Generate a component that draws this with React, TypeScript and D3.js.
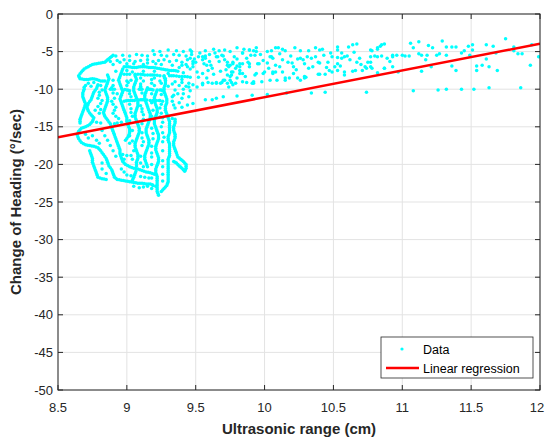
import React from "react";
import * as d3 from "d3";

type P = [number, number];

const xTicks = [8.5, 9, 9.5, 10, 10.5, 11, 11.5, 12];
const yTicks = [0, -5, -10, -15, -20, -25, -30, -35, -40, -45, -50];
const xDomain: P = [8.5, 12];
const yDomain: P = [-50, 0];
const regressionEnds: P[] = [[8.5, -16.4], [12, -3.95]];

// left loop + upper rows of the dense cluster
const loopPts: P[] = [
  [8.65,-8.2],[8.67,-7.7],[8.69,-7.3],[8.72,-7.0],[8.75,-6.7],[8.78,-6.6],[8.81,-6.5],[8.84,-6.4],[8.86,-6.1],[8.88,-5.8],[8.90,-5.5],
  [8.66,-8.6],[8.69,-8.7],[8.72,-8.7],[8.75,-8.6],[8.78,-8.7],[8.81,-8.9],[8.84,-8.9],
  [8.66,-7.95],[8.68,-7.5],[8.705,-7.15],[8.735,-6.85],[8.765,-6.65],[8.795,-6.55],[8.825,-6.45],[8.85,-6.25],[8.87,-5.95],[8.89,-5.65],[8.655,-8.4],[8.675,-8.65],[8.705,-8.7],[8.735,-8.65],[8.765,-8.65],[8.795,-8.8],[8.825,-8.9],
  [8.98,-7.0],[9.01,-7.0],[9.04,-7.1],[9.07,-7.1],[9.10,-7.0],[9.13,-7.0],[9.16,-7.1],[9.19,-7.1],[9.22,-7.2],[9.25,-7.3],[9.28,-7.4],[9.31,-7.5],[9.34,-7.5],[9.37,-7.6],
  [8.995,-7.0],[9.025,-7.05],[9.055,-7.1],[9.085,-7.05],[9.115,-7.0],[9.145,-7.05],[9.175,-7.1],[9.205,-7.15],[9.235,-7.25],[9.265,-7.35],[9.295,-7.45],[9.325,-7.5],[9.355,-7.55],
  [8.98,-8.0],[9.02,-8.0],[9.10,-8.0],[9.13,-8.1],[9.17,-8.1],[9.20,-8.1],[9.24,-8.2],[9.31,-8.2],[9.34,-8.2],[9.38,-8.3],[9.42,-8.3],[9.46,-8.4],
  [9.0,-8.0],[9.06,-8.0],[9.08,-8.0],[9.115,-8.05],[9.15,-8.1],[9.185,-8.1],[9.22,-8.15],[9.27,-8.2],[9.325,-8.2],[9.36,-8.25],[9.40,-8.3],[9.44,-8.35],
  [8.88,-6.3],[8.93,-6.2],[8.98,-6.1],[9.02,-6.2],[9.06,-6.3],[9.10,-6.2],[9.15,-6.1],[9.19,-6.3],[9.23,-6.2],[9.27,-6.1],[9.31,-6.3],[9.36,-6.2],[9.40,-6.4],[9.44,-6.1],[9.48,-6.3],
  [8.92,-5.6],[8.97,-5.5],[9.02,-5.6],[9.07,-5.4],[9.11,-5.5],[9.15,-5.6],[9.20,-5.4],[9.25,-5.5],[9.29,-5.6],[9.34,-5.4],[9.38,-5.5],[9.43,-5.6],[9.47,-5.4],
  [9.19,-4.9],[9.24,-5.0],[9.30,-4.8],[9.36,-4.9],[9.41,-5.0],[9.46,-4.8],
  [8.90,-6.7],[9.00,-6.6],[9.12,-6.7],[9.21,-6.6],[9.33,-6.8],[9.43,-6.7],
  [8.90,-8.8],[9.00,-8.9],[9.03,-8.8],[9.12,-8.9],[9.18,-8.7],[9.24,-8.9],[9.35,-9.0],[9.40,-9.1],[9.45,-9.2],
  [9.10,-8.5],[9.20,-8.5],[9.28,-8.6],[9.40,-8.7],[9.35,-10.1],[9.41,-10.0],[9.46,-10.2],
  [8.92,-7.6],[9.0,-7.5],[9.04,-7.7],[9.12,-7.6],[9.2,-7.6],[9.3,-7.9],[9.41,-7.8],[9.46,-7.3],[9.44,-7.0],[9.38,-7.1],[8.95,-6.4],[9.05,-6.6],[9.15,-6.5],[9.25,-6.7],[9.4,-6.8],[9.48,-7.0],
  [9.1,-9.6],[9.2,-9.5],[9.3,-9.6],[9.38,-9.5],[9.45,-9.7],[9.33,-11.0],[9.4,-11.2],[9.45,-11.0],[9.37,-10.6],
  [9.35,-12.5],[9.40,-12.4],[9.44,-12.1],[9.48,-11.9],
];

// vertical traces of the dense cluster
const columnPts: P[] = [
  [8.70,-9.5],[8.69,-10.0],[8.68,-10.5],[8.68,-11.0],[8.69,-11.5],[8.70,-12.0],[8.69,-12.5],[8.68,-13.0],[8.67,-13.5],[8.66,-14.0],[8.66,-14.5],
  [8.69,-9.75],[8.685,-10.25],[8.68,-10.75],[8.685,-11.25],[8.695,-11.75],[8.695,-12.25],[8.685,-12.75],[8.675,-13.25],[8.665,-13.75],[8.66,-14.25],
  [8.79,-9.4],[8.78,-9.9],[8.76,-10.4],[8.75,-10.9],[8.74,-11.4],[8.72,-11.9],[8.71,-12.4],[8.72,-12.9],[8.74,-13.4],[8.76,-13.8],[8.75,-14.3],[8.73,-14.7],[8.70,-15.0],[8.67,-15.2],[8.65,-15.6],[8.64,-16.1],[8.65,-16.6],[8.67,-17.1],[8.70,-17.4],[8.73,-17.5],[8.76,-17.6],[8.79,-17.8],[8.81,-18.2],[8.83,-18.7],[8.85,-19.2],[8.86,-19.7],[8.87,-20.2],[8.89,-20.7],[8.90,-21.2],[8.91,-21.7],[8.93,-22.0],
  [8.785,-9.65],[8.77,-10.15],[8.755,-10.65],[8.745,-11.15],[8.73,-11.65],[8.715,-12.15],[8.715,-12.65],[8.73,-13.15],[8.75,-13.6],[8.755,-14.05],[8.74,-14.5],[8.715,-14.85],[8.685,-15.1],[8.66,-15.4],[8.645,-15.85],[8.645,-16.35],[8.66,-16.85],[8.685,-17.25],[8.715,-17.45],[8.745,-17.55],[8.775,-17.7],[8.80,-18.0],[8.82,-18.45],[8.84,-18.95],[8.855,-19.45],[8.865,-19.95],[8.88,-20.45],[8.895,-20.95],[8.905,-21.45],[8.92,-21.85],
  [8.86,-8.1],[8.87,-8.6],[8.86,-9.1],[8.85,-9.6],[8.84,-10.1],[8.85,-10.6],[8.86,-11.1],[8.86,-11.6],[8.85,-12.1],[8.84,-12.6],[8.83,-13.1],[8.84,-13.6],[8.86,-14.1],[8.88,-14.6],[8.89,-15.1],[8.90,-15.6],[8.91,-16.1],[8.92,-16.6],[8.93,-17.1],[8.94,-17.6],[8.95,-18.1],[8.95,-18.6],[8.96,-19.1],[8.97,-19.6],[8.99,-20.0],[9.02,-20.3],[9.05,-20.5],[9.08,-20.6],[9.11,-20.8],[9.14,-21.0],[9.17,-21.1],[9.20,-21.3],
  [8.865,-8.35],[8.865,-8.85],[8.855,-9.35],[8.845,-9.85],[8.845,-10.35],[8.855,-10.85],[8.86,-11.35],[8.855,-11.85],[8.845,-12.35],[8.835,-12.85],[8.835,-13.35],[8.85,-13.85],[8.87,-14.35],[8.885,-14.85],[8.895,-15.35],[8.905,-15.85],[8.915,-16.35],[8.925,-16.85],[8.935,-17.35],[8.945,-17.85],[8.95,-18.35],[8.955,-18.85],[8.965,-19.35],[8.98,-19.8],[9.005,-20.15],[9.035,-20.4],[9.065,-20.55],[9.095,-20.7],[9.125,-20.9],[9.155,-21.05],[9.185,-21.2],
  [8.97,-7.3],[8.96,-7.8],[8.95,-8.3],[8.94,-8.8],[8.95,-9.3],[8.96,-9.8],[8.97,-10.3],[8.96,-10.8],[8.95,-11.3],[8.96,-11.8],[8.97,-12.3],[8.98,-12.8],[8.99,-13.3],[9.00,-13.8],[9.00,-14.3],[9.01,-14.8],[9.02,-15.3],[9.02,-15.8],[9.01,-16.3],[8.99,-16.8],
  [8.965,-7.55],[8.955,-8.05],[8.945,-8.55],[8.945,-9.05],[8.955,-9.55],[8.965,-10.05],[8.965,-10.55],[8.955,-11.05],[8.955,-11.55],[8.965,-12.05],[8.975,-12.55],[8.985,-13.05],[8.995,-13.55],[9.0,-14.05],[9.005,-14.55],[9.015,-15.05],[9.02,-15.55],[9.015,-16.05],[9.0,-16.55],
  [9.06,-8.2],[9.07,-8.7],[9.06,-9.2],[9.05,-9.7],[9.05,-10.2],[9.06,-10.7],[9.07,-11.2],[9.08,-11.7],[9.08,-12.2],[9.07,-12.7],[9.06,-13.2],[9.06,-13.7],[9.07,-14.2],[9.08,-14.7],[9.09,-15.2],[9.09,-15.7],[9.08,-16.2],[9.07,-16.7],[9.06,-17.2],[9.06,-17.7],[9.07,-18.2],[9.08,-18.7],[9.08,-19.2],[9.07,-19.7],[9.06,-21.2],[9.05,-21.7],[9.04,-22.1],
  [9.065,-8.45],[9.065,-8.95],[9.055,-9.45],[9.05,-9.95],[9.055,-10.45],[9.065,-10.95],[9.075,-11.45],[9.08,-11.95],[9.075,-12.45],[9.065,-12.95],[9.06,-13.45],[9.065,-13.95],[9.075,-14.45],[9.085,-14.95],[9.09,-15.45],[9.085,-15.95],[9.075,-16.45],[9.065,-16.95],[9.06,-17.45],[9.065,-17.95],[9.075,-18.45],[9.08,-18.95],[9.075,-19.45],[9.07,-19.95],[9.07,-20.2],[9.065,-20.95],[9.055,-21.45],[9.045,-21.9],
  [9.15,-9.8],[9.14,-10.3],[9.13,-10.8],[9.13,-11.3],[9.14,-11.8],[9.15,-12.3],[9.16,-12.8],[9.17,-13.3],[9.17,-13.8],[9.16,-14.3],[9.15,-14.8],[9.14,-15.3],[9.14,-15.8],[9.15,-16.3],[9.16,-16.8],[9.16,-17.3],[9.15,-17.8],[9.14,-18.3],[9.13,-18.8],[9.13,-19.3],[9.14,-19.8],[9.15,-20.3],
  [9.145,-10.05],[9.135,-10.55],[9.13,-11.05],[9.135,-11.55],[9.145,-12.05],[9.155,-12.55],[9.165,-13.05],[9.17,-13.55],[9.165,-14.05],[9.155,-14.55],[9.145,-15.05],[9.14,-15.55],[9.145,-16.05],[9.155,-16.55],[9.16,-17.05],[9.155,-17.55],[9.145,-18.05],[9.135,-18.55],[9.13,-19.05],[9.135,-19.55],[9.145,-20.05],
  [9.22,-10.1],[9.21,-10.6],[9.20,-11.1],[9.20,-11.6],[9.21,-12.1],[9.22,-12.6],[9.22,-13.1],[9.21,-13.6],[9.20,-14.1],[9.20,-14.6],[9.21,-15.1],[9.22,-15.6],[9.23,-16.1],[9.23,-16.6],[9.22,-17.1],[9.21,-17.6],[9.21,-18.1],[9.22,-18.6],[9.23,-19.1],[9.23,-19.6],[9.22,-20.1],[9.21,-20.6],[9.21,-21.1],[9.22,-21.6],[9.22,-22.1],[9.22,-22.6],[9.22,-23.1],[9.22,-23.6],[9.23,-24.1],
  [9.215,-10.35],[9.205,-10.85],[9.2,-11.35],[9.205,-11.85],[9.215,-12.35],[9.22,-12.85],[9.215,-13.35],[9.205,-13.85],[9.2,-14.35],[9.205,-14.85],[9.215,-15.35],[9.225,-15.85],[9.23,-16.35],[9.225,-16.85],[9.215,-17.35],[9.21,-17.85],[9.215,-18.35],[9.225,-18.85],[9.23,-19.35],[9.225,-19.85],[9.215,-20.35],[9.21,-20.85],[9.215,-21.35],[9.22,-21.85],[9.22,-22.35],[9.22,-22.85],[9.22,-23.35],[9.225,-23.85],
  [9.27,-8.3],[9.28,-8.8],[9.28,-9.3],[9.27,-9.8],[9.27,-10.3],[9.28,-10.8],[9.29,-11.3],[9.29,-11.8],[9.28,-12.3],[9.28,-12.8],[9.29,-13.3],[9.30,-13.8],[9.31,-14.3],[9.31,-14.8],[9.31,-15.3],[9.31,-15.8],[9.30,-16.3],[9.30,-16.8],[9.31,-17.3],[9.31,-17.8],[9.31,-18.3],[9.31,-18.8],[9.30,-19.3],[9.30,-19.8],[9.30,-20.3],[9.30,-20.8],[9.30,-21.3],[9.30,-21.8],[9.30,-22.3],[9.29,-22.8],[9.27,-23.2],[9.25,-23.6],
  [9.275,-8.55],[9.28,-9.05],[9.275,-9.55],[9.27,-10.05],[9.275,-10.55],[9.285,-11.05],[9.29,-11.55],[9.285,-12.05],[9.28,-12.55],[9.285,-13.05],[9.295,-13.55],[9.305,-14.05],[9.31,-14.55],[9.31,-15.05],[9.31,-15.55],[9.305,-16.05],[9.3,-16.55],[9.305,-17.05],[9.31,-17.55],[9.31,-18.05],[9.31,-18.55],[9.305,-19.05],[9.3,-19.55],[9.3,-20.05],[9.3,-20.55],[9.3,-21.05],[9.3,-21.55],[9.3,-22.05],[9.295,-22.55],[9.28,-23.0],[9.26,-23.4],
  [9.35,-14.0],[9.35,-14.5],[9.34,-15.0],[9.34,-15.5],[9.35,-16.0],[9.35,-16.5],[9.34,-17.0],[9.34,-17.5],[9.35,-18.0],[9.36,-18.5],[9.37,-19.0],[9.39,-19.3],[9.41,-19.6],[9.43,-20.0],[9.43,-20.5],[9.42,-20.9],[9.40,-20.5],[9.38,-20.2],[9.36,-19.8],[9.34,-19.6],
  [9.35,-14.25],[9.345,-14.75],[9.34,-15.25],[9.345,-15.75],[9.35,-16.25],[9.345,-16.75],[9.34,-17.25],[9.345,-17.75],[9.355,-18.25],[9.365,-18.75],[9.38,-19.15],[9.40,-19.45],[9.42,-19.8],[9.43,-20.25],[9.425,-20.7],[9.41,-20.7],[9.39,-20.35],[9.37,-20.0],[9.35,-19.7],
  [9.24,-13.7],[9.26,-13.8],[9.33,-13.9],
];

// horizontal links and bottom of the dense cluster
const bottomPts: P[] = [
  [8.96,-22.1],[8.99,-22.2],[9.02,-22.3],[9.05,-22.4],[9.08,-22.5],[9.11,-22.5],[9.14,-22.6],[9.17,-22.6],[9.19,-22.8],
  [8.945,-22.05],[8.975,-22.15],[9.005,-22.25],[9.035,-22.35],[9.065,-22.45],[9.095,-22.5],[9.125,-22.55],[9.155,-22.6],[9.185,-22.7],[9.21,-22.9],
  [9.00,-21.4],[9.03,-21.5],[9.10,-21.6],[9.13,-21.7],[9.16,-21.8],
  [8.73,-18.2],[8.74,-18.7],[8.75,-19.2],[8.75,-19.7],[8.76,-20.2],[8.77,-20.7],[8.78,-21.2],[8.79,-21.7],[8.82,-21.9],[8.85,-22.0],
  [8.735,-18.45],[8.745,-18.95],[8.75,-19.45],[8.755,-19.95],[8.765,-20.45],[8.775,-20.95],[8.785,-21.45],[8.805,-21.8],[8.835,-21.95],
  [8.98,-11.6],[9.01,-11.5],[9.04,-11.5],[9.10,-11.4],[9.12,-11.4],[9.17,-11.5],[9.24,-11.5],[9.26,-11.6],
  [8.995,-11.55],[9.025,-11.5],[9.055,-11.5],[9.085,-11.45],[9.11,-11.4],[9.145,-11.45],[9.19,-11.5],[9.215,-11.5],[9.235,-11.5],
  [8.78,-14.4],[8.81,-14.5],[8.91,-14.6],[8.93,-14.5],[8.96,-14.4],
  [8.97,-18.7],[9.00,-18.8],[9.03,-18.8],[9.10,-18.9],[9.18,-19.0],
  [9.11,-16.5],[9.19,-16.6],
  [8.88,-10.0],[8.91,-10.0],[9.00,-10.1],[9.02,-10.2],[9.09,-10.0],[9.11,-10.0],[9.17,-10.0],[9.19,-10.1],[9.24,-10.1],
  [8.895,-10.0],[8.985,-10.05],[9.01,-10.15],[9.1,-10.0],[9.16,-10.0],[9.18,-10.05],[9.25,-10.1],[9.26,-10.2],
  [8.80,-10.8],[8.82,-11.5],[8.90,-12.0],[8.91,-12.8],[8.80,-13.2],[8.93,-10.6],[8.90,-9.5],[9.00,-9.5],[9.10,-9.3],[9.03,-12.6],[9.11,-13.0],[9.12,-14.0],[9.25,-12.0],[9.25,-15.0],[9.04,-15.5],[9.11,-17.5],[9.18,-15.2],[9.26,-17.0],[9.26,-19.5],[9.02,-17.2],[8.98,-19.3],[9.10,-19.8],[9.18,-20.0],[9.12,-20.3],[9.26,-21.3],[9.15,-22.9],[9.12,-23.0],[9.18,-23.2],
];

// in-between readings that fill the dense cluster
const fillPts: P[] = [
  [8.72,-9.2],[8.74,-9.6],[8.76,-9.1],[8.81,-9.5],[8.82,-10.1],[8.80,-10.4],[8.79,-11.2],[8.81,-11.9],[8.79,-12.3],[8.77,-12.8],[8.81,-12.7],[8.89,-9.8],[8.90,-10.5],[8.91,-11.2],[8.89,-11.6],[8.92,-12.4],[8.90,-13.2],[8.92,-13.6],[8.94,-13.9],
  [9.01,-9.1],[9.02,-10.6],[9.03,-11.0],[9.02,-12.0],[9.03,-13.1],[9.04,-13.6],[9.02,-14.2],[9.10,-9.8],[9.11,-10.5],[9.10,-12.2],[9.11,-12.6],[9.12,-13.4],[9.11,-14.6],
  [9.18,-9.2],[9.18,-10.6],[9.18,-11.8],[9.19,-12.8],[9.18,-13.6],[9.25,-9.2],[9.25,-10.7],[9.24,-12.5],[9.25,-13.2],[9.26,-14.4],[9.33,-9.3],[9.34,-10.8],[9.33,-11.6],[9.34,-12.1],[9.38,-11.8],[9.43,-9.6],[9.41,-10.6],
  [8.70,-16.0],[8.72,-16.5],[8.75,-16.2],[8.78,-16.8],[8.80,-17.2],[8.82,-15.5],[8.84,-16.2],[8.86,-16.8],[8.88,-17.5],[8.90,-18.2],[8.92,-18.9],[8.82,-19.8],[8.82,-20.6],[8.85,-21.2],[8.96,-20.6],[8.98,-21.0],
  [9.04,-19.3],[9.05,-18.2],[9.02,-16.2],[9.04,-16.9],[9.12,-17.0],[9.11,-15.8],[9.19,-15.9],[9.18,-17.6],[9.18,-18.5],[9.26,-15.8],[9.27,-16.4],[9.26,-18.2],[9.26,-20.3],[9.18,-21.8],[9.26,-22.2],[9.09,-23.1],[9.05,-22.9],
];

// sparse upper cloud, x from 9.45 to 10.9
const cloudNearPts: P[] = [
  [9.47,-5.0],[9.52,-5.7],[9.49,-6.0],[9.48,-6.6],[9.51,-7.7],[9.55,-6.1],[9.57,-5.6],[9.58,-6.8],[9.59,-7.5],[9.62,-7.2],[9.64,-5.2],[9.66,-5.7],[9.69,-5.5],[9.71,-6.1],[9.73,-6.8],[9.74,-7.0],[9.76,-7.7],[9.76,-8.1],[9.77,-6.4],[9.78,-5.7],[9.80,-6.9],[9.82,-6.6],[9.82,-7.5],[9.84,-5.2],[9.84,-7.9],[9.87,-5.9],[9.89,-6.6],[9.89,-4.8],[9.94,-5.0],[9.94,-7.9],[9.96,-6.6],[9.98,-9.0],[10.0,-7.7],[10.02,-5.0],[10.05,-5.7],[10.06,-7.9],[10.08,-7.7],[10.04,-8.8],
  [9.48,-9.4],[9.51,-9.7],[9.55,-9.4],[9.62,-9.2],[9.65,-9.1],[9.68,-9.2],[9.70,-8.8],[9.73,-9.2],[9.74,-9.7],[9.75,-8.8],[9.77,-9.4],[9.80,-8.5],[9.84,-9.0],[9.91,-9.2],[9.92,-9.0],
  [9.57,-4.9],[9.63,-4.7],[9.67,-4.9],[9.71,-4.8],[9.75,-5.0],[9.80,-4.5],[9.84,-5.2],[9.85,-4.7],[9.89,-4.8],[9.92,-4.9],[9.94,-4.5],
  [9.55,-5.7],[9.57,-5.9],[9.60,-6.3],[9.56,-6.6],[9.65,-5.7],[9.70,-5.6],[9.73,-6.4],[9.75,-6.8],[9.77,-6.6],[9.80,-6.0],[9.82,-7.0],[9.84,-6.6],[9.88,-6.4],[9.89,-7.0],[9.93,-5.5],[9.95,-6.6],[9.99,-7.9],
  [9.55,-7.9],[9.55,-9.2],[9.59,-9.1],[9.65,-9.2],[9.69,-9.1],[9.71,-8.8],[9.73,-8.1],[9.75,-8.3],[9.76,-9.1],[9.77,-7.7],[9.79,-9.2],[9.82,-7.9],[9.87,-9.1],[9.92,-9.2],[9.93,-8.1],
  [9.46,-5.9],[9.50,-6.4],[9.52,-8.4],[9.53,-5.2],[9.58,-8.5],[9.60,-5.4],[9.61,-6.8],[9.63,-8.0],[9.67,-6.3],[9.68,-7.6],[9.72,-7.4],[9.79,-7.2],[9.86,-8.3],[9.90,-5.5],[9.97,-5.4],[9.99,-6.2],
  [9.57,-11.4],[9.62,-11.4],[9.65,-11.2],[9.70,-11.0],[9.80,-10.9],[9.91,-10.8],[10.02,-10.7],
  [10.05,-4.9],[10.08,-4.5],[10.06,-5.9],[10.08,-6.8],[10.13,-4.7],[10.22,-4.5],[10.26,-4.9],[10.32,-4.9],[10.37,-4.5],[10.40,-4.8],[10.42,-4.7],[10.48,-5.2],[10.53,-4.4],[10.53,-4.8],[10.56,-5.2],[10.61,-4.4],[10.64,-4.1],[10.67,-4.0],[10.77,-4.8],[10.82,-4.5],[10.85,-4.1],
  [10.13,-6.1],[10.17,-6.4],[10.20,-6.5],[10.21,-7.0],[10.24,-6.0],[10.26,-5.9],[10.28,-6.1],[10.34,-5.9],[10.37,-5.7],[10.40,-6.5],[10.46,-6.4],[10.49,-5.7],[10.51,-7.0],[10.56,-5.9],[10.58,-5.7],[10.62,-6.1],[10.67,-6.4],[10.69,-5.9],[10.73,-7.0],[10.77,-5.7],[10.82,-5.7],[10.89,-5.9],
  [10.06,-7.7],[10.13,-7.7],[10.15,-8.5],[10.21,-7.9],[10.24,-8.5],[10.29,-8.5],[10.30,-8.4],[10.39,-8.0],[10.44,-8.0],[10.49,-7.7],[10.53,-7.5],[10.58,-7.7],[10.64,-7.6],[10.66,-7.5],[10.71,-7.5],[10.74,-7.2],[10.87,-7.2],
  [10.04,-5.7],[10.10,-4.5],[10.15,-4.9],[10.29,-6.6],[10.31,-5.7],[10.32,-7.2],[10.29,-8.3],[10.26,-8.8],[10.18,-8.5],[10.15,-8.8],[10.09,-8.8],[10.39,-6.4],[10.40,-8.0],[10.47,-7.5],[10.53,-6.6],[10.53,-5.8],[10.58,-8.1],[10.60,-5.6],[10.75,-6.4],[10.77,-7.0],[10.82,-7.8],
  [10.02,-6.5],[10.03,-7.2],[10.11,-5.3],[10.11,-7.0],[10.19,-5.6],[10.23,-7.4],[10.35,-7.0],[10.43,-5.5],[10.45,-7.1],[10.55,-6.9],[10.65,-5.1],[10.70,-6.7],
];

// sparse upper cloud, x from 10.75 to 12, and low outliers
const cloudFarPts: P[] = [
  [10.78,-4.9],[10.80,-5.6],[10.77,-6.4],[10.78,-7.2],[10.82,-4.7],[10.84,-4.3],[10.87,-4.0],[10.85,-5.6],[10.87,-7.2],[10.91,-6.3],[10.93,-5.7],[10.93,-5.5],[10.96,-5.5],[10.93,-7.0],[10.97,-7.7],[11.0,-5.5],[11.02,-5.6],[11.05,-5.6],[11.06,-3.9],[11.08,-4.5],[11.12,-3.7],[11.12,-5.3],[11.14,-5.5],[11.14,-7.6],[11.17,-6.1],[11.18,-5.5],[11.19,-4.2],[11.22,-4.5],[11.21,-7.0],[11.25,-5.5],[11.27,-5.3],[11.29,-3.6],[11.32,-4.4],[11.32,-5.5],[11.36,-4.4],[11.39,-4.4],[11.36,-6.9],[11.39,-7.5],[11.43,-5.2],[11.45,-4.9],[11.48,-4.3],[11.51,-4.1],[11.51,-4.8],[11.49,-5.5],[11.54,-6.9],[11.54,-7.5],[11.58,-6.8],[11.61,-4.1],[11.61,-6.0],[11.63,-7.0],[11.66,-4.3],[11.68,-5.2],[11.69,-7.5],[11.75,-3.3],[11.81,-4.4],[11.81,-4.9],[11.84,-5.3],[11.87,-5.3],[11.93,-6.8],[11.94,-4.1],[11.99,-5.7],
  [10.16,-10.5],[10.34,-10.5],[10.44,-10.4],[10.74,-10.4],[11.08,-10.2],[11.26,-10.1],[11.32,-10.0],[11.43,-10.0],[11.52,-10.0],[11.63,-9.8],[11.86,-9.8],
];

const allPoints: P[] = [...loopPts, ...columnPts, ...bottomPts, ...fillPts, ...cloudNearPts, ...cloudFarPts];

export default function App() {
  const W = 545, H = 440;
  const L = 58, R = 540, T = 14, B = 390;
  const x = d3.scaleLinear().domain(xDomain).range([L, R]);
  const y = d3.scaleLinear().domain(yDomain).range([B, T]);
  const line = d3.line<P>().x(d => x(d[0])).y(d => y(d[1]));
  const font = "Arial, 'Liberation Sans', Helvetica, sans-serif";
  const gridColor = "#e3e3e3";
  const axisColor = "#262626";
  const tick = 5;

  return (
    <svg width={W} height={H} style={{ position: "absolute", left: 0, top: 0, background: "#fff" }} fontFamily={font}>
      <defs>
        <clipPath id="plotclip">
          <rect x={L} y={T} width={R - L} height={B - T} />
        </clipPath>
      </defs>
      <rect x={0} y={0} width={W} height={H} fill="#fff" />
      {xTicks.map(t => (
        <line key={"gx" + t} x1={x(t)} x2={x(t)} y1={T} y2={B} stroke={gridColor} strokeWidth={1} />
      ))}
      {yTicks.map(t => (
        <line key={"gy" + t} x1={L} x2={R} y1={y(t)} y2={y(t)} stroke={gridColor} strokeWidth={1} />
      ))}
      <g clipPath="url(#plotclip)">
        {allPoints.map((d, i) => (
          <circle key={i} cx={x(d[0])} cy={y(d[1])} r={1.75} fill="#00ffff" />
        ))}
        <path d={line(regressionEnds) || ""} stroke="#ff0000" strokeWidth={2.5} fill="none" />
      </g>
      <rect x={L} y={T} width={R - L} height={B - T} fill="none" stroke={axisColor} strokeWidth={1} />
      {xTicks.map(t => (
        <g key={"tx" + t}>
          <line x1={x(t)} x2={x(t)} y1={B} y2={B - tick} stroke={axisColor} />
          <line x1={x(t)} x2={x(t)} y1={T} y2={T + tick} stroke={axisColor} />
          <text x={Math.min(x(t), W - 8)} y={412} textAnchor="middle" fontSize={13} fill={axisColor}>{t}</text>
        </g>
      ))}
      {yTicks.map(t => (
        <g key={"ty" + t}>
          <line x1={L} x2={L + tick} y1={y(t)} y2={y(t)} stroke={axisColor} />
          <line x1={R} x2={R - tick} y1={y(t)} y2={y(t)} stroke={axisColor} />
          <text x={L - 5} y={y(t) + 4.5} textAnchor="end" fontSize={13} fill={axisColor}>{t}</text>
        </g>
      ))}
      <text x={(L + R) / 2} y={434} textAnchor="middle" fontSize={15} fontWeight="bold" fill={axisColor}>Ultrasonic range (cm)</text>
      <text transform={`translate(21,${(T + B) / 2}) rotate(-90)`} textAnchor="middle" fontSize={15} fontWeight="bold" fill={axisColor}>Change of Heading (°/sec)</text>
      <g>
        <rect x={381} y={337} width={152} height={41} fill="#fff" stroke={axisColor} strokeWidth={0.8} />
        <circle cx={402} cy={349} r={1.6} fill="#00ffff" />
        <text x={423} y={354} fontSize={12.5} fill="#000">Data</text>
        <line x1={386} x2={419} y1={368} y2={368} stroke="#ff0000" strokeWidth={2.5} />
        <text x={423} y={373} fontSize={12.5} fill="#000">Linear regression</text>
      </g>
    </svg>
  );
}
